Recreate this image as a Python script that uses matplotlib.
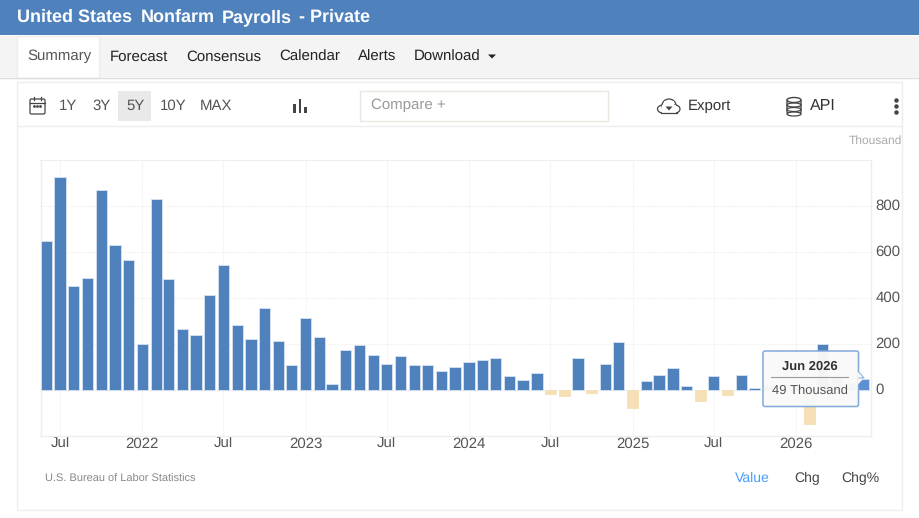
import matplotlib
matplotlib.use("Agg")
import matplotlib.pyplot as plt
import matplotlib.dates as mdates
from matplotlib.patches import Rectangle, FancyBboxPatch, Polygon, Ellipse
from matplotlib.transforms import ScaledTranslation
import pandas as pd

plt.rcParams["font.family"] = ["Liberation Sans", "DejaVu Sans"]
plt.rcParams["text.hinting"] = "no_hinting"
plt.rcParams["text.hinting_factor"] = 1

W, H = 920, 518

months = pd.date_range("2021-06-01", "2026-06-01", freq="MS")
payrolls = [
    648, 926, 451, 487, 870, 632, 564,
    200, 830, 483, 268, 241, 414, 543, 285, 225, 358, 216, 112,
    313, 232, 26, 177, 197, 152, 116, 148, 112, 112, 83, 100,
    123, 132, 139, 62, 43, 75, -14, -25, 139, -13, 116, 209,
    -78, 39, 67, 99, 19, -46, 62, -22, 67, 12, 20, -10, 10,
    -146, 200, 60, 30, 49,
]
y_ticks = [0, 200, 400, 600, 800]
x_ticks = ["2021-07-01", "2022-01-01", "2022-07-01", "2023-01-01", "2023-07-01",
           "2024-01-01", "2024-07-01", "2025-01-01", "2025-07-01", "2026-01-01"]
x_tick_labels = ["Jul", "2022", "Jul", "2023", "Jul", "2024", "Jul", "2025", "Jul", "2026"]
title_words = [("United States", 17), ("Nonfarm", 141), ("Payrolls", 222), ("- Private", 299)]
nav_items = [("Forecast", 110), ("Consensus", 186), ("Calendar", 279), ("Alerts", 358), ("Download", 414)]
range_items = [("1Y", 59), ("3Y", 92), ("5Y", 126), ("10Y", 160), ("MAX", 200)]

BLUE = "#4f81bd"
NEG = "#f5dfb5"
ICON = "#444444"

fig = plt.figure(figsize=(W / 100, H / 100), dpi=100, facecolor="white")

# page furniture, drawn in pixel coordinates
page = fig.add_axes([0, 0, 1, 1])
page.set_xlim(0, W)
page.set_ylim(H, 0)
page.axis("off")

page.add_patch(Rectangle((0, 0), W, 35, fc=BLUE, ec="none"))
for word, x in title_words:
    page.text(x, 17.5, word, color="white", fontsize=13.3, fontweight="bold", va="center")

page.add_patch(Rectangle((0, 36), W, 41, fc="#f4f4f4", ec="none"))
page.plot([0, W], [77.5, 77.5], color="#dddddd", lw=1)
page.add_patch(Rectangle((17.5, 36), 82, 41.5, fc="white", ec="#eeeeee", lw=1))
page.text(27, 56.5, "Summary", color="#555555", fontsize=10.8, va="center")
for label, x in nav_items:
    page.text(x, 56.5, label, color="#222222", fontsize=10.8, va="center")
page.add_patch(Polygon([[488, 54.5], [496, 54.5], [492, 58.5]], fc="#222222", ec="none"))

# chart card and toolbar
page.add_patch(Rectangle((17.5, 81.5), 885, 428.5, fc="white", ec="#eeeeee", lw=1))
page.plot([18, 902], [125.5, 125.5], color="#eeeeee", lw=1)
page.add_patch(Rectangle((118, 91), 33, 30, fc="#e9e9e9", ec="none"))
for label, x in range_items:
    page.text(x, 106, label, color="#555555", fontsize=10.8, va="center")

# calendar icon
page.add_patch(FancyBboxPatch((30, 99), 15, 15, boxstyle="round,pad=0,rounding_size=1.5",
                              fc="none", ec=ICON, lw=0.9))
page.plot([30, 45], [102.5, 102.5], color=ICON, lw=0.9)
page.plot([34, 34], [97, 100], color=ICON, lw=0.9)
page.plot([41, 41], [97, 100], color=ICON, lw=0.9)
page.plot([34.5, 37.5, 40.5], [106, 106, 106], ls="none", marker="s", ms=0.9, color=ICON)

# bar type icon
for x, top in [(294.5, 104), (300, 99), (305.5, 107)]:
    page.add_patch(Rectangle((x - 1, top), 2.2, 113 - top, fc=ICON, ec="none"))

page.add_patch(Rectangle((360.5, 90.5), 248, 30.5, fc="white", ec="#e8e8e0", lw=1))
page.text(371, 105, "Compare +", color="#999999", fontsize=10.6, va="center")

# cloud icon
for cx, cy, w, h in [(663, 109, 11, 8), (669, 105.5, 14, 13), (675, 109, 10, 8)]:
    page.add_patch(Ellipse((cx, cy), w, h, fc="white", ec=ICON, lw=0.9))
page.add_patch(Rectangle((662, 105), 14, 7.5, fc="white", ec="none"))
page.add_patch(Rectangle((664, 101), 10, 6, fc="white", ec="none"))
page.plot([661, 677], [113, 113], color=ICON, lw=0.9)
page.add_patch(Polygon([[665.5, 106.5], [672.5, 106.5], [669, 110.5]], fc=ICON, ec="none"))

page.text(688, 106, "Export", color="#333333", fontsize=11, va="center")

# database icon
page.add_patch(FancyBboxPatch((787, 99.5), 14, 14, boxstyle="round,pad=0,rounding_size=2",
                              fc="white", ec=ICON, lw=1))
for y in [105, 109.5, 114]:
    page.add_patch(Ellipse((794, y), 14, 4, fc="white", ec=ICON, lw=0.9))
page.add_patch(Ellipse((794, 100), 14, 5, fc="white", ec=ICON, lw=1))
page.text(810, 106, "API", color="#333333", fontsize=11.6, va="center")
page.plot([896.5] * 3, [100, 106, 112], ls="none", marker="o", ms=2.2, color=ICON)

page.text(902, 141, "Thousand", color="#aaaaaa", fontsize=8.9, va="center", ha="right")
page.text(45, 479, "U.S. Bureau of Labor Statistics", color="#888888", fontsize=8.1, va="center")
page.text(735, 478, "Value", color="#4a9eff", fontsize=10.4, va="center")
page.text(794, 478, "Chg", color="#444444", fontsize=10.4, va="center")
page.text(841, 478, "Chg%", color="#444444", fontsize=10.4, va="center")

# the bar chart itself
ax = fig.add_axes([40.5 / W, 1 - 435.5 / H, (871 - 40.5) / W, (435.5 - 160) / H])
ax.patch.set_alpha(0)
colors = [BLUE if v >= 0 else NEG for v in payrolls]
colors[-1] = "#5c90d2"
edges = ["#d6e2f2" if v >= 0 else NEG for v in payrolls]
ax.bar(months, payrolls, width=25, color=colors, edgecolor=edges, linewidth=0.6, zorder=3)
ax.set_ylim(-196, 1000)
x0 = mdates.date2num(pd.Timestamp("2021-07-01"))
ax.set_xlim(x0 - (60 - 40.5) / 0.4474, x0 + (871 - 60) / 0.4474)
ax.set_yticks(y_ticks)
ax.set_xticks(pd.to_datetime(x_ticks))
ax.set_xticklabels(x_tick_labels)
ax.yaxis.tick_right()
ax.tick_params(axis="x", length=0, labelsize=10.6, labelcolor="#555555", pad=1)
ax.tick_params(axis="y", length=0, labelsize=10.6, labelcolor="#555555", pad=3)
up = ScaledTranslation(0, 1.5 / 100, fig.dpi_scale_trans)
for lab in ax.get_yticklabels():
    lab.set_transform(lab.get_transform() + up)
ax.grid(True, color="#eeeeee", lw=0.8, ls=(0, (1, 1)), zorder=0)
ax.spines["top"].set_color("#eeeeee")
ax.spines["top"].set_linestyle((0, (1, 1)))
ax.spines["top"].set_linewidth(0.8)
for side in ["left", "right", "bottom"]:
    ax.spines[side].set_color("#eeeeee")
    ax.spines[side].set_linewidth(1)

# hover tooltip
tip = fig.add_axes([0, 0, 1, 1], zorder=5)
tip.set_xlim(0, W)
tip.set_ylim(H, 0)
tip.axis("off")
tip.patch.set_alpha(0)
tip.add_patch(FancyBboxPatch((763, 351), 95.5, 55.5, boxstyle="round,pad=0,rounding_size=2",
                             fc="#f9f9f9", ec="#7ea6d8", lw=1.1, alpha=0.97))
tip.add_patch(Polygon([[857.5, 371], [864, 378], [857.5, 385]], fc="#f9f9f9", ec="none"))
tip.plot([858, 864, 859], [371, 378, 378], color="#8fb2de", lw=0.8)
tip.text(810, 367, "Jun 2026", color="#333333", fontsize=9.4, fontweight="bold", ha="center", va="center")
tip.plot([771, 848], [376.5, 376.5], color="#999999", lw=0.8)
tip.text(810, 391, "49 Thousand", color="#555555", fontsize=9.6, ha="center", va="center")

fig.savefig("out.png", dpi=100)
